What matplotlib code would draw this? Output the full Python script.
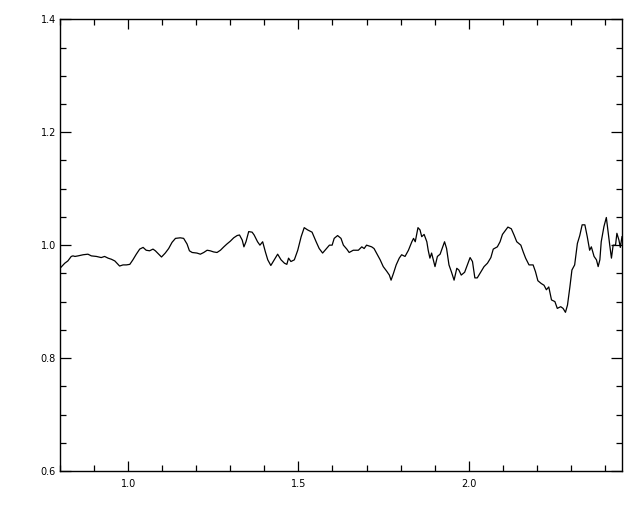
import matplotlib
matplotlib.use("Agg")
import matplotlib.pyplot as plt
from matplotlib.ticker import MultipleLocator

wavelength = [0.800, 0.814, 0.823, 0.833, 0.838, 0.844, 0.853, 0.868, 0.882, 0.892,
              0.907, 0.921, 0.931, 0.941, 0.951, 0.961, 0.975, 0.985, 0.995, 1.005,
              1.014, 1.024, 1.034, 1.044, 1.053, 1.063, 1.073, 1.080, 1.090, 1.098,
              1.109, 1.119, 1.129, 1.139, 1.153, 1.163, 1.173, 1.180, 1.188, 1.202,
              1.212, 1.222, 1.232, 1.241, 1.251, 1.261, 1.271, 1.281, 1.290, 1.300,
              1.310, 1.320, 1.327, 1.335, 1.340, 1.346, 1.354, 1.364, 1.370, 1.380,
              1.387, 1.395, 1.403, 1.410, 1.419, 1.429, 1.439, 1.449, 1.459, 1.466,
              1.471, 1.478, 1.488, 1.498, 1.508, 1.517, 1.527, 1.540, 1.552, 1.561,
              1.571, 1.581, 1.591, 1.599, 1.605, 1.615, 1.625, 1.632, 1.642, 1.649,
              1.661, 1.676, 1.686, 1.693, 1.700, 1.715, 1.722, 1.732, 1.740, 1.749,
              1.759, 1.767, 1.772, 1.779, 1.787, 1.796, 1.803, 1.813, 1.823, 1.833,
              1.838, 1.843, 1.851, 1.857, 1.862, 1.869, 1.877, 1.881, 1.886, 1.891,
              1.896, 1.901, 1.908, 1.916, 1.922, 1.929, 1.935, 1.942, 1.949, 1.957,
              1.965, 1.971, 1.978, 1.988, 1.996, 2.004, 2.011, 2.018, 2.025, 2.035,
              2.045, 2.055, 2.065, 2.072, 2.084, 2.092, 2.099, 2.109, 2.115, 2.125,
              2.133, 2.141, 2.153, 2.160, 2.167, 2.177, 2.182, 2.189, 2.196, 2.203,
              2.213, 2.221, 2.228, 2.235, 2.243, 2.253, 2.260, 2.270, 2.277, 2.284,
              2.290, 2.297, 2.303, 2.311, 2.319, 2.326, 2.333, 2.341, 2.348, 2.355,
              2.360, 2.368, 2.375, 2.380, 2.385, 2.389, 2.397, 2.404, 2.409, 2.414,
              2.419, 2.424, 2.431, 2.435, 2.441, 2.445, 2.450]

ratio = [0.959, 0.968, 0.972, 0.980, 0.981, 0.980, 0.981, 0.983, 0.984, 0.981,
         0.980, 0.978, 0.980, 0.977, 0.975, 0.972, 0.963, 0.965, 0.965, 0.966,
         0.974, 0.984, 0.993, 0.996, 0.991, 0.990, 0.993, 0.990, 0.984, 0.979,
         0.986, 0.994, 1.005, 1.012, 1.013, 1.012, 1.002, 0.990, 0.987, 0.986,
         0.984, 0.987, 0.991, 0.990, 0.988, 0.987, 0.991, 0.997, 1.002, 1.007,
         1.013, 1.017, 1.018, 1.009, 0.997, 1.006, 1.024, 1.023, 1.018, 1.006,
         1.000, 1.006, 0.988, 0.974, 0.964, 0.974, 0.984, 0.974, 0.968, 0.966,
         0.977, 0.971, 0.974, 0.991, 1.015, 1.031, 1.027, 1.023, 1.006, 0.994,
         0.986, 0.993, 1.000, 1.000, 1.012, 1.017, 1.012, 1.000, 0.993, 0.987,
         0.991, 0.991, 0.997, 0.994, 1.000, 0.997, 0.994, 0.983, 0.974, 0.962,
         0.954, 0.947, 0.938, 0.950, 0.965, 0.977, 0.983, 0.980, 0.991, 1.006,
         1.012, 1.006, 1.031, 1.027, 1.015, 1.019, 1.006, 0.991, 0.977, 0.986,
         0.974, 0.962, 0.980, 0.984, 0.994, 1.006, 0.994, 0.965, 0.953, 0.938,
         0.959, 0.956, 0.947, 0.952, 0.965, 0.978, 0.971, 0.942, 0.942, 0.952,
         0.962, 0.968, 0.978, 0.993, 0.997, 1.006, 1.019, 1.027, 1.032, 1.029,
         1.018, 1.006, 1.000, 0.988, 0.977, 0.965, 0.965, 0.965, 0.953, 0.937,
         0.932, 0.929, 0.921, 0.926, 0.903, 0.900, 0.888, 0.891, 0.888, 0.881,
         0.894, 0.926, 0.956, 0.965, 1.003, 1.017, 1.036, 1.036, 1.015, 0.991,
         0.997, 0.980, 0.974, 0.962, 0.974, 1.006, 1.033, 1.049, 1.024, 1.000,
         0.977, 1.000, 1.000, 1.021, 1.009, 0.996, 1.015]

x_range = (0.8, 2.45)
y_range = (0.6, 1.4)
x_major, x_minor = 0.5, 0.1
y_major, y_minor = 0.2, 0.05

fig = plt.figure(figsize=(6.4, 5.12), dpi=100)
ax = fig.add_axes([60/640, 41/512, 562/640, 451.7/512])
ax.plot(wavelength, ratio, color="black", linewidth=0.9)
ax.set_xlim(*x_range)
ax.set_ylim(*y_range)
ax.xaxis.set_major_locator(MultipleLocator(x_major))
ax.xaxis.set_minor_locator(MultipleLocator(x_minor))
ax.yaxis.set_major_locator(MultipleLocator(y_major))
ax.yaxis.set_minor_locator(MultipleLocator(y_minor))
ax.xaxis.set_major_formatter(matplotlib.ticker.FormatStrFormatter("%.1f"))
ax.yaxis.set_major_formatter(matplotlib.ticker.FormatStrFormatter("%.1f"))
ax.tick_params(which="both", direction="in", top=True, right=True,
               labelsize=7, width=0.9)
ax.tick_params(axis="x", which="major", length=7, pad=6)
ax.tick_params(axis="y", which="major", length=8, pad=3)
ax.tick_params(which="minor", length=4)
for s in ax.spines.values():
    s.set_linewidth(1.0)
fig.savefig("out.png", dpi=100)
